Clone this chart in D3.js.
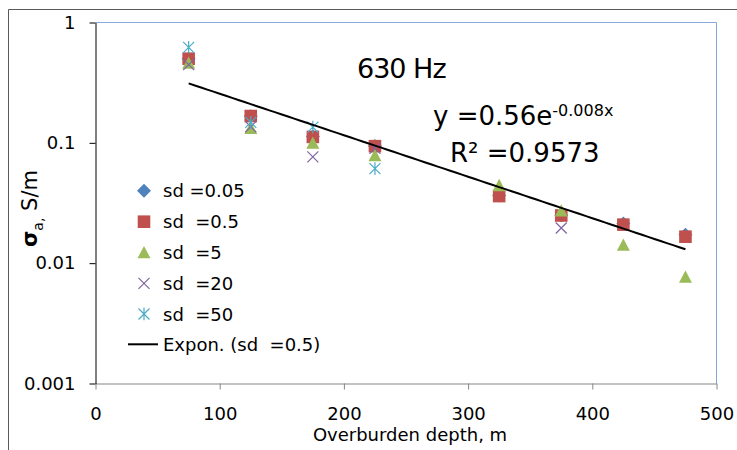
<!DOCTYPE html>
<html>
<head>
<meta charset="utf-8">
<script src="https://cdn.jsdelivr.net/npm/d3@7"></script>
<style>
  body { margin: 0; background: #fff; }
  svg { display: block; font-family: "DejaVu Sans", sans-serif; }
  text { white-space: pre; }
</style>
</head>
<body>
<div id="chart"></div>
<script>
// Données (profondeur en m, conductivité apparente en S/m)
const depths = [75, 125, 175, 225, 325, 375, 425, 475];
const sd005 = [0.50, 0.166, 0.113, 0.094, 0.0365, 0.025, 0.0214, 0.0172];
const sd05 = [0.50, 0.167, 0.112, 0.0938, 0.0361, 0.0249, 0.0209, 0.0166];
const sd5 = [0.463, 0.133, 0.100, 0.0789, 0.0445, 0.0274, 0.0142, 0.0077];
const depths20 = [75, 125, 175, 225, 375];
const sd20 = [0.446, 0.136, 0.0764, 0.090, 0.0196];
const depths50 = [75, 125, 175, 225];
const sd50 = [0.622, 0.148, 0.135, 0.0611];

const seriesNames = ["sd =0.05", "sd  =0.5", "sd  =5", "sd  =20", "sd  =50"];
const trendName = "Expon. (sd  =0.5)";
const xTicks = [0, 100, 200, 300, 400, 500];
const yTicks = [0.001, 0.01, 0.1, 1];
const yTickLabels = ["0.001", "0.01", "0.1", "1"];

const series = [
  { name: seriesNames[0], xs: depths, ys: sd005, shape: "diamond", color: "#4f81bd" },
  { name: seriesNames[1], xs: depths, ys: sd05, shape: "square", color: "#c0504d" },
  { name: seriesNames[2], xs: depths, ys: sd5, shape: "triangle", color: "#9bbb59" },
  { name: seriesNames[3], xs: depths20, ys: sd20, shape: "cross", color: "#8064a2" },
  { name: seriesNames[4], xs: depths50, ys: sd50, shape: "star", color: "#4bacc6" }
];

// Ajustement exponentiel (moindres carrés sur ln y) pour sd = 0.5
function expFit(xs, ys) {
  const ly = ys.map(v => Math.log(v));
  const mx = d3.mean(xs), my = d3.mean(ly);
  let sxy = 0, sxx = 0;
  xs.forEach((xv, i) => { sxy += (xv - mx) * (ly[i] - my); sxx += (xv - mx) * (xv - mx); });
  const b = sxy / sxx;
  return { a: Math.exp(my - b * mx), b: b };
}
const fit = expFit(depths, sd05);

const width = 737, height = 450;
const svg = d3.select("#chart").append("svg")
  .attr("width", width)
  .attr("height", height);

// Cadre extérieur (seulement gauche et haut visibles)
svg.append("path")
  .attr("d", "M8.5,450 L8.5,9.5 L737,9.5")
  .attr("fill", "none")
  .attr("stroke", "#5a5a5a");

const x = d3.scaleLinear().domain([0, 500]).range([95.5, 716.5]);
const y = d3.scaleLog().domain([0.001, 1]).range([383.5, 22.5]);

// Bordures haut / droite de la zone de tracé
svg.append("line")
  .attr("x1", x(0)).attr("x2", x(500)).attr("y1", y(1)).attr("y2", y(1))
  .attr("stroke", "#8eaadb");
svg.append("line")
  .attr("x1", x(500)).attr("x2", x(500)).attr("y1", y(1)).attr("y2", y(0.001))
  .attr("stroke", "#86a4d6");

// Axe X
const gx = svg.append("g")
  .attr("transform", "translate(0," + y(0.001) + ")")
  .call(d3.axisBottom(x).tickValues(xTicks).tickSize(6).tickSizeOuter(0).tickPadding(18).tickFormat(d3.format("d")));
gx.select(".domain").attr("stroke", "#868686");
gx.selectAll(".tick line").attr("stroke", "#868686");
gx.selectAll("text").attr("font-size", 18).attr("font-family", "DejaVu Sans").attr("fill", "#000");

// Axe Y (logarithmique)
const gy = svg.append("g")
  .attr("transform", "translate(" + x(0) + ",0)")
  .call(d3.axisLeft(y).tickValues(yTicks).tickSize(6).tickSizeOuter(0).tickPadding(14)
    .tickFormat((d, i) => yTickLabels[i]));
gy.select(".domain").attr("stroke", "#000");
gy.selectAll(".tick line").attr("stroke", "#000");
gy.selectAll("text").attr("font-size", 18).attr("font-family", "DejaVu Sans").attr("fill", "#000");

// Titres des axes
svg.append("text")
  .attr("x", 410).attr("y", 441)
  .attr("text-anchor", "middle")
  .attr("font-size", 18)
  .text("Overburden depth, m");

const ylab = svg.append("text")
  .attr("transform", "translate(37,247) rotate(-90)")
  .attr("font-size", 21);
ylab.append("tspan").attr("font-weight", "bold").text("σ");
ylab.append("tspan").attr("font-size", 14).attr("dy", 6).text("a,");
ylab.append("tspan").attr("dy", -6).text(" S/m");

// Symboles
function marker(sel, shape, color) {
  if (shape === "diamond") {
    sel.append("path").attr("d", "M0,-7L7,0L0,7L-7,0Z").attr("fill", color);
  } else if (shape === "square") {
    sel.append("rect").attr("x", -6.3).attr("y", -6.3).attr("width", 12.6).attr("height", 12.6).attr("fill", color);
  } else if (shape === "triangle") {
    sel.append("path").attr("d", "M0,-6.3L6.5,6L-6.5,6Z").attr("fill", color);
  } else if (shape === "cross") {
    sel.append("path").attr("d", "M-5.5,-5.5L5.5,5.5M-5.5,5.5L5.5,-5.5")
      .attr("stroke", color).attr("stroke-width", 1.2).attr("fill", "none");
  } else {
    sel.append("path").attr("d", "M-5.5,-5.5L5.5,5.5M-5.5,5.5L5.5,-5.5M0,-6.3L0,6.3")
      .attr("stroke", color).attr("stroke-width", 1.2).attr("fill", "none");
  }
}

series.forEach(s => {
  svg.append("g").selectAll("g")
    .data(s.xs.map((xv, i) => [xv, s.ys[i]]))
    .enter()
    .append("g")
    .attr("transform", d => "translate(" + x(d[0]) + "," + y(d[1]) + ")")
    .each(function () { marker(d3.select(this), s.shape, s.color); });
});

// Courbe de tendance exponentielle
const trendX = d3.range(d3.min(depths), d3.max(depths) + 1, 5);
svg.append("path")
  .datum(trendX)
  .attr("d", d3.line().x(d => x(d)).y(d => y(fit.a * Math.exp(fit.b * d))))
  .attr("fill", "none")
  .attr("stroke", "#000")
  .attr("stroke-width", 2);

// Légende
const legendY = [190.7, 221.7, 252.3, 283.3, 314, 344.3];
series.forEach((s, i) => {
  const g = svg.append("g").attr("transform", "translate(144," + legendY[i] + ")");
  marker(g, s.shape, s.color);
  svg.append("text")
    .attr("x", 163).attr("y", legendY[i] + 6.5)
    .attr("font-size", 18)
    .text(s.name);
});
svg.append("line")
  .attr("x1", 128).attr("x2", 158).attr("y1", legendY[5]).attr("y2", legendY[5])
  .attr("stroke", "#000").attr("stroke-width", 2);
svg.append("text")
  .attr("x", 163).attr("y", legendY[5] + 6.5)
  .attr("font-size", 18)
  .text(trendName);

// Annotations
svg.append("text")
  .attr("x", 357).attr("y", 78)
  .attr("font-size", 27)
  .attr("letter-spacing", -1)
  .text("630 Hz");

const eq = svg.append("text")
  .attr("x", 433).attr("y", 125)
  .attr("font-size", 26);
eq.append("tspan").text("y =0.56e");
eq.append("tspan").attr("font-size", 16).attr("dy", -9).text("-0.008x");

svg.append("text")
  .attr("x", 450).attr("y", 162)
  .attr("font-size", 26)
  .text("R² =0.9573");
</script>
</body>
</html>
